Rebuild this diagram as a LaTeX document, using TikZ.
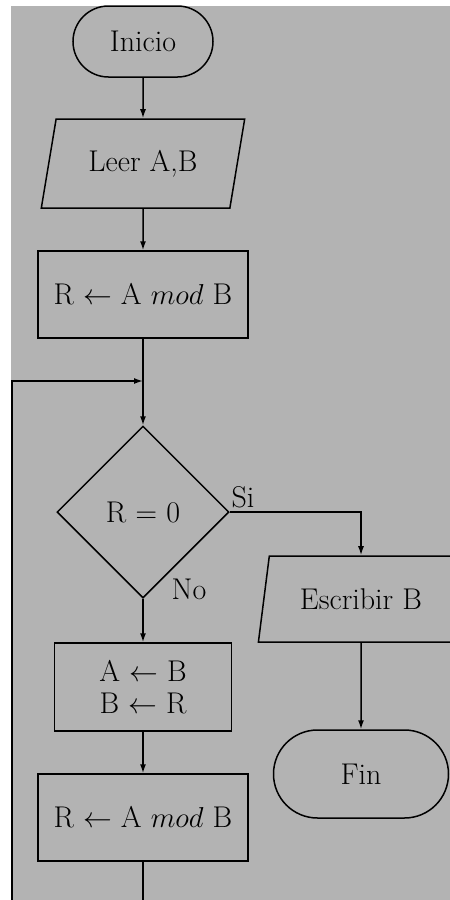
\documentclass[tikz,border=0pt]{standalone}
\usetikzlibrary{shapes.geometric,shapes.misc,arrows.meta,calc}
\definecolor{bggray}{RGB}{179,179,179}
\begin{document}
\begin{tikzpicture}[x=0.5pt,y=-0.5pt,
  every node/.style={font=\fontsize{15}{18}\selectfont, inner sep=0pt},
  lw/.style={line width=0.75pt},
  procbox/.style={draw, lw, rectangle},
  termbox/.style={draw, lw, rounded rectangle},
  iobox/.style={draw, lw, trapezium, trapezium left angle=71, trapezium right angle=109, trapezium stretches=true},
  decbox/.style={draw, lw, diamond},
  arr/.style={lw, -{Latex[length=4.5pt,width=3pt]}},
  conn/.style={lw}]
\fill[white] (0,0) rectangle (450,900);
\fill[bggray] (11,6) rectangle (450,900);
\useasboundingbox (0,0) rectangle (450,900);
\clip (0,0) rectangle (450,900);

\node[termbox, minimum width=70pt, minimum height=35.5pt] (inicio) at (143,41.5) {Inicio};
\node[iobox, minimum width=102pt, minimum height=44.5pt] (leer) at (143,163.5) {Leer A,B};
\node[procbox, minimum width=105pt, minimum height=43.5pt] (r1) at (143,294.5) {R $\leftarrow$ A $mod$ B};
\node[decbox, minimum width=86pt, minimum height=86pt] (dec) at (143,512) {R $=$ 0};
\node[iobox, minimum width=103pt, minimum height=43pt] (esc) at (361,599) {Escribir B};
\node[termbox, minimum width=87.5pt, minimum height=44pt] (fin) at (361,774) {Fin};
\node[procbox, minimum width=88.5pt, minimum height=44pt, align=center] (ab) at (143,687) {A $\leftarrow$ B\\[-2pt]B $\leftarrow$ R};
\node[procbox, minimum width=105pt, minimum height=43.5pt] (r2) at (143,817.5) {R $\leftarrow$ A $mod$ B};

\node (si) at (243,497.5) {Si};
\node (no) at (189,589.5) {No};

\coordinate (join) at (143,381);
\coordinate (lb) at (12,930);

\draw[arr] (inicio.south) -- (leer.north);
\draw[arr] (leer.south) -- (r1.north);
\draw[arr] (r1.south) -- (dec.north);
\draw[arr] (dec.east) -| (esc.north);
\draw[arr] (esc.south) -- (fin.north);
\draw[arr] (dec.south) -- (ab.north);
\draw[arr] (ab.south) -- (r2.north);
\draw[arr] (r2.south) |- (lb) |- (join);
\end{tikzpicture}
\end{document}
